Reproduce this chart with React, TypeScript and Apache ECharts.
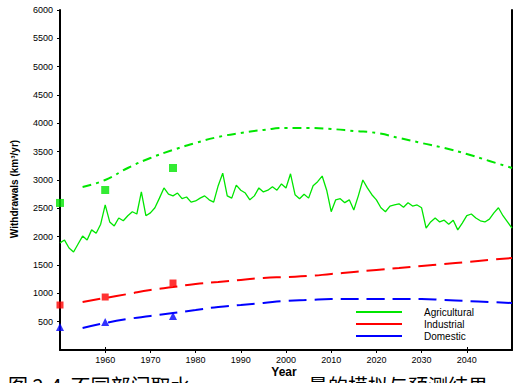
import React, { useEffect, useRef } from "react";
import * as echarts from "echarts";

const startYear = 1950;
const simAgri = [
  1890, 1940, 1800, 1730, 1870, 2010, 1940, 2120, 2060, 2220,
  2560, 2260, 2190, 2330, 2280, 2370, 2440, 2400, 2790, 2370,
  2420, 2510, 2680, 2860, 2750, 2720, 2770, 2670, 2700, 2610,
  2630, 2680, 2720, 2650, 2610, 2900, 3120, 2720, 2680, 2910,
  2820, 2770, 2650, 2720, 2860, 2790, 2820, 2880, 2820, 2930,
  2860, 3110, 2740, 2670, 2750, 2680, 2900, 2970, 3070, 2820,
  2440, 2650, 2670, 2600, 2650, 2470, 2720, 3000, 2860, 2740,
  2650, 2510, 2440, 2540, 2560, 2580, 2520, 2600, 2540, 2560,
  2510, 2150, 2260, 2330, 2260, 2290, 2220, 2290, 2120, 2240,
  2370, 2400, 2330, 2280, 2260, 2310, 2420, 2510, 2370, 2260,
  2150,
];
const projYears = [1955, 1960, 1965, 1970, 1975, 1980, 1985, 1990, 1995, 2000, 2005, 2010, 2015, 2020, 2025, 2030, 2035, 2040, 2045, 2050];
const projAgri = [2877, 3000, 3212, 3388, 3530, 3653, 3759, 3830, 3883, 3918, 3918, 3900, 3865, 3830, 3742, 3653, 3565, 3459, 3336, 3212];
const projInd = [847, 918, 988, 1059, 1112, 1165, 1200, 1236, 1271, 1288, 1306, 1341, 1377, 1412, 1447, 1483, 1518, 1553, 1589, 1624];
const projDom = [388, 477, 547, 600, 653, 706, 759, 794, 830, 865, 883, 900, 900, 900, 900, 900, 883, 865, 847, 830];
const obsYears = [1950, 1960, 1975];
const obsAgri = [2595, 2824, 3212];
const obsInd = [794, 935, 1182];
const obsDom = [406, 494, 600];
const seriesNames = ["Agricultural", "Industrial", "Domestic"];
const colors = ["#00e600", "#ff0000", "#0000ff"];
const yTitle = "Withdrawals (km³/yr)";
const xTitle = "Year";
const captionLeft = "图 2-4  不同部门取水";
const captionRight = "量的模拟与预测结果";

export default function App() {
  const ref = useRef<HTMLDivElement>(null);
  useEffect(() => {
    const chart = echarts.init(ref.current!, null, { renderer: "svg" });
    const pair = (xs: number[], ys: number[]) => xs.map((x, i) => [x, ys[i]]);
    const simData = simAgri.map((v, i) => [startYear + i, v]);
    const font = "Liberation Sans";
    const plain = (v: number) => String(v);
    chart.setOption({
      animation: false,
      backgroundColor: "#fff",
      grid: { left: 60, right: 1, top: 10, bottom: 33 },
      xAxis: [
        {
          type: "value", min: 1950, max: 2050, interval: 10,
          axisLine: { show: false },
          axisTick: { show: true, length: 3, lineStyle: { color: "#000" } },
          axisLabel: { showMinLabel: false, showMaxLabel: false, fontSize: 9, color: "#000", margin: 5, fontFamily: font, formatter: plain },
          splitLine: { show: false },
        },
        {
          type: "value", position: "top", min: 1950, max: 2050, interval: 10,
          axisLine: { show: true, lineStyle: { color: "#000", width: 2 } },
          axisTick: { show: true, length: 3, customValues: [1960, 2040], lineStyle: { color: "#000" } },
          axisLabel: { show: false },
          splitLine: { show: false },
        },
      ],
      yAxis: [
        {
          type: "value", min: 0, max: 6000, interval: 500,
          axisLine: { show: true, lineStyle: { color: "#000", width: 2 } },
          axisTick: { show: true, length: 3, lineStyle: { color: "#000" } },
          axisLabel: { showMinLabel: false, fontSize: 9, color: "#000", margin: 7, fontFamily: font, formatter: plain },
          splitLine: { show: false },
        },
        {
          type: "value", position: "right", min: 0, max: 6000, interval: 500,
          axisLine: { show: true, lineStyle: { color: "#000", width: 2 } },
          axisTick: { show: false }, axisLabel: { show: false }, splitLine: { show: false },
        },
      ],
      legend: {
        data: seriesNames,
        orient: "vertical",
        left: 351,
        top: 302,
        itemWidth: 46,
        itemHeight: 2,
        itemGap: 2,
        icon: "rect",
        textStyle: { fontSize: 10, color: "#000", fontFamily: font, padding: [0, 0, 0, 17] },
      },
      series: [
        {
          name: "Agricultural simulated", type: "line", data: simData, symbol: "none",
          lineStyle: { color: colors[0], width: 1.3 }, itemStyle: { color: colors[0] }, z: 2,
        },
        {
          name: seriesNames[0], type: "line", data: pair(projYears, projAgri), symbol: "none", smooth: true,
          lineStyle: { color: colors[0], width: 2, type: [9, 5, 3, 5] }, itemStyle: { color: colors[0] },
        },
        {
          name: seriesNames[1], type: "line", data: pair(projYears, projInd), symbol: "none", smooth: true,
          lineStyle: { color: colors[1], width: 2, type: [18, 8] }, itemStyle: { color: colors[1] },
        },
        {
          name: seriesNames[2], type: "line", data: pair(projYears, projDom), symbol: "none", smooth: true,
          lineStyle: { color: colors[2], width: 2, type: [18, 8] }, itemStyle: { color: colors[2] },
        },
        { name: "obsA", type: "scatter", data: pair(obsYears, obsAgri), symbol: "rect", symbolSize: 8, itemStyle: { color: colors[0] }, clip: false, z: 5 },
        { name: "obsI", type: "scatter", data: pair(obsYears, obsInd), symbol: "rect", symbolSize: 7, itemStyle: { color: colors[1] }, clip: false, z: 5 },
        { name: "obsD", type: "scatter", data: pair(obsYears, obsDom), symbol: "triangle", symbolSize: 8, itemStyle: { color: colors[2] }, clip: false, z: 5 },
      ],
      graphic: [
        {
          type: "text", x: 14, y: 189, rotation: Math.PI / 2,
          style: { text: yTitle, fontSize: 10, fontWeight: "bold", fontFamily: font, fill: "#000", align: "center", verticalAlign: "middle" },
        },
        {
          type: "text", x: 284, y: 372,
          style: { text: xTitle, fontSize: 12, fontWeight: "bold", fontFamily: font, fill: "#000", align: "center", verticalAlign: "middle" },
        },
        {
          type: "text", x: 8, y: 375,
          style: { text: captionLeft, fontSize: 20, fontFamily: "Noto Sans CJK SC", fill: "#000", align: "left", verticalAlign: "top" },
        },
        {
          type: "text", x: 308, y: 375,
          style: { text: captionRight, fontSize: 20, fontFamily: "Noto Sans CJK SC", fill: "#000", align: "left", verticalAlign: "top" },
        },
      ],
    });
    return () => chart.dispose();
  }, []);
  return <div ref={ref} style={{ position: "fixed", left: 0, top: 0, width: 513, height: 383, background: "#fff" }} />;
}
